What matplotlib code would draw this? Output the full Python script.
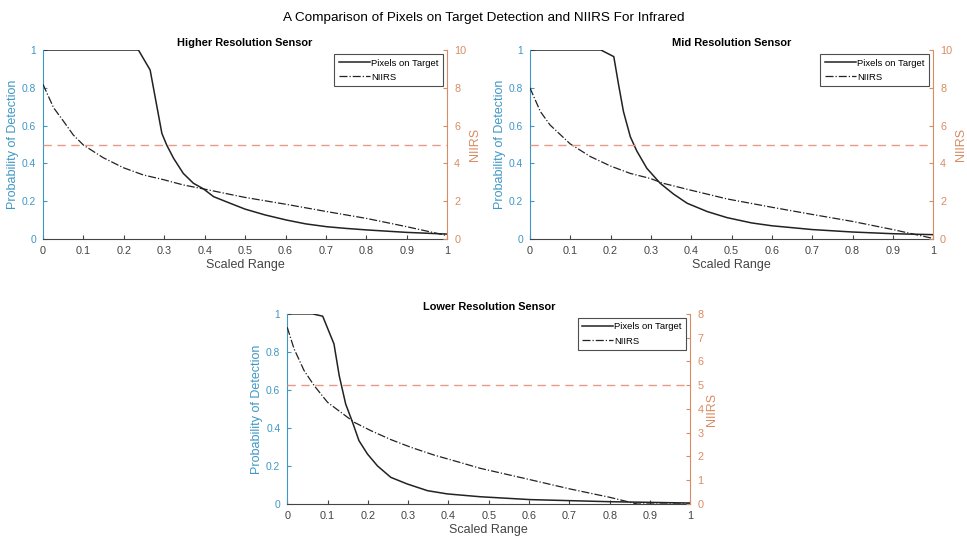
import numpy as np
import matplotlib
matplotlib.use('Agg')
import matplotlib.pyplot as plt

plt.rcParams['font.family'] = ['Liberation Sans', 'DejaVu Sans']

LEFT_COLOR = '#3f97c4'
RIGHT_COLOR = '#d98c63'
LINE_RED = '#e8998a'

# Higher resolution sensor
hi_pot_x = [0, 0.1, 0.2, 0.236, 0.265, 0.294, 0.306, 0.323, 0.347, 0.372, 0.397, 0.422, 0.463,
            0.5, 0.55, 0.603, 0.65, 0.702, 0.75, 0.801, 0.9, 1.0]
hi_pot_y = [1, 1, 1, 1, 0.894, 0.559, 0.497, 0.427, 0.347, 0.295, 0.265, 0.224, 0.189,
            0.158, 0.127, 0.1, 0.08, 0.065, 0.056, 0.048, 0.035, 0.026]
hi_niirs_x = [0, 0.026, 0.05, 0.075, 0.1, 0.149, 0.199, 0.248, 0.298, 0.347, 0.397, 0.463,
              0.5, 0.603, 0.702, 0.8, 0.9, 1.0]
hi_niirs_y = [8.18, 6.95, 6.25, 5.5, 4.97, 4.3, 3.77, 3.39, 3.14, 2.86, 2.65, 2.36,
              2.2, 1.83, 1.45, 1.09, 0.65, 0.18]

# Mid resolution sensor
mid_pot_x = [0, 0.1, 0.176, 0.208, 0.22, 0.232, 0.249, 0.265, 0.29, 0.323, 0.356, 0.39, 0.44,
             0.489, 0.55, 0.6, 0.7, 0.8, 0.9, 1.0]
mid_pot_y = [1, 1, 1, 0.965, 0.815, 0.674, 0.541, 0.466, 0.374, 0.295, 0.238, 0.189, 0.145,
             0.113, 0.085, 0.07, 0.05, 0.037, 0.028, 0.023]
mid_niirs_x = [0, 0.026, 0.05, 0.1, 0.15, 0.2, 0.249, 0.299, 0.33, 0.39, 0.489, 0.6, 0.7,
               0.8, 0.9, 1.0]
mid_niirs_y = [8.0, 6.74, 6.03, 5.03, 4.36, 3.86, 3.47, 3.2, 2.95, 2.63, 2.12, 1.68, 1.3,
               0.93, 0.5, 0.03]

# Lower resolution sensor
lo_pot_x = [0, 0.063, 0.088, 0.116, 0.129, 0.145, 0.162, 0.178, 0.199, 0.224, 0.257, 0.298,
            0.348, 0.397, 0.479, 0.603, 0.8, 1.0]
lo_pot_y = [1, 1, 0.988, 0.842, 0.675, 0.526, 0.43, 0.333, 0.263, 0.2, 0.14, 0.105,
            0.07, 0.053, 0.038, 0.023, 0.012, 0.005]
lo_niirs_x = [0, 0.017, 0.042, 0.067, 0.1, 0.133, 0.166, 0.207, 0.257, 0.306, 0.364, 0.422,
              0.479, 0.603, 0.702, 0.8, 0.868, 0.9, 1.0]
lo_niirs_y = [7.44, 6.53, 5.61, 4.98, 4.28, 3.86, 3.44, 3.09, 2.71, 2.39, 2.06, 1.78,
              1.5, 1.02, 0.63, 0.28, 0.0, 0.0, 0.0]

panels = [
    ('Higher Resolution Sensor', [0.0445, 0.5574, 0.418, 0.35], hi_pot_x, hi_pot_y, hi_niirs_x, hi_niirs_y, 10),
    ('Mid Resolution Sensor', [0.548, 0.5574, 0.417, 0.35], mid_pot_x, mid_pot_y, mid_niirs_x, mid_niirs_y, 10),
    ('Lower Resolution Sensor', [0.297, 0.0667, 0.417, 0.352], lo_pot_x, lo_pot_y, lo_niirs_x, lo_niirs_y, 8),
]

fig = plt.figure(figsize=(9.67, 5.4), dpi=100)
fig.text(0.5, 0.966, 'A Comparison of Pixels on Target Detection and NIIRS For Infrared',
         ha='center', va='center', fontsize=9.7)

for title, rect, px, py, nx, ny, nmax in panels:
    ax = fig.add_axes(rect)
    ax2 = ax.twinx()
    l1, = ax.plot(px, py, color='#222222', lw=1.1, label='Pixels on Target')
    l2, = ax2.plot(nx, ny, color='#222222', lw=0.9, ls='-.', label='NIIRS')
    ax2.axhline(5, color=LINE_RED, lw=1.0, ls=(0, (6, 4)))
    ax.set_xlim(0, 1)
    ax.set_ylim(0, 1)
    ax2.set_ylim(0, nmax)
    ax.set_xticks(np.arange(0, 1.01, 0.1))
    ax.set_xticklabels(['0', '0.1', '0.2', '0.3', '0.4', '0.5', '0.6', '0.7', '0.8', '0.9', '1'])
    ax.set_yticks(np.arange(0, 1.01, 0.2))
    ax.set_yticklabels(['0', '0.2', '0.4', '0.6', '0.8', '1'])
    if nmax == 10:
        ax2.set_yticks(range(0, 11, 2))
    else:
        ax2.set_yticks(range(0, 9))
    for a in (ax, ax2):
        a.spines['top'].set_visible(False)
    ax.spines['right'].set_visible(False)
    ax.spines['left'].set_color(LEFT_COLOR)
    ax2.spines['left'].set_visible(False)
    ax2.spines['right'].set_color(RIGHT_COLOR)
    ax.spines['bottom'].set_color('#444444')
    ax2.spines['bottom'].set_visible(False)
    ax.tick_params(axis='y', direction='in', colors=LEFT_COLOR, labelsize=7.4, length=3, pad=5)
    ax.tick_params(axis='x', direction='in', colors='#444444', labelsize=7.8, length=3, pad=5)
    ax2.tick_params(axis='y', direction='in', colors=RIGHT_COLOR, labelsize=7.8, length=3, pad=5)
    ax.set_xlabel('Scaled Range', fontsize=9, color='#444444', labelpad=2)
    ax.set_ylabel('Probability of Detection', fontsize=9, color=LEFT_COLOR, labelpad=2)
    ax2.set_ylabel('NIIRS', fontsize=9, color=RIGHT_COLOR, labelpad=2)
    ax.set_title(title, fontsize=7.9, fontweight='bold', pad=3)
    leg = ax2.legend([l1, l2], ['Pixels on Target', 'NIIRS'], loc='upper right',
                     fontsize=6.8, frameon=True, fancybox=False, handlelength=3.3,
                     borderaxespad=0.45, labelspacing=0.55, handletextpad=0.15, borderpad=0.45)
    leg.get_frame().set_edgecolor('#222222')
    leg.get_frame().set_linewidth(0.8)

plt.savefig('out.png', dpi=100)
